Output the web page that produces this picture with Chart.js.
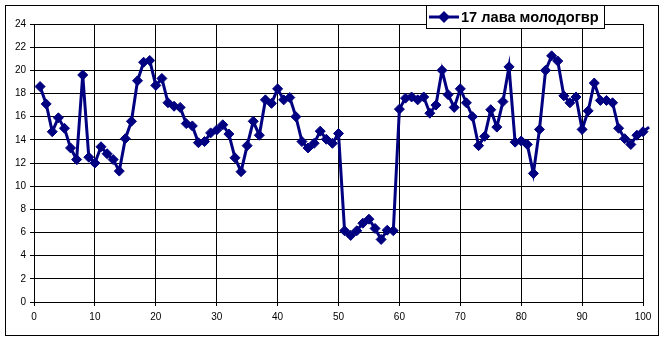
<!doctype html>
<html>

<head>
  <meta charset="utf-8">
  <script src="https://cdn.jsdelivr.net/npm/chart.js@4/dist/chart.umd.min.js"></script>
  <style>
    html, body { margin: 0; padding: 0; background: #fff; }
    #wrap { width: 665px; height: 342px; position: relative; }
  </style>
</head>

<body>
  <div id="wrap">
    <canvas id="canvas"></canvas>
  </div>
  <script>
    const seriesName = '17 лава молодогвр';

    const xValues = [
      1, 2, 3, 4, 5, 6, 7, 8, 9, 10,
      11, 12, 13, 14, 15, 16, 17, 18, 19, 20,
      21, 22, 23, 24, 25, 26, 27, 28, 29, 30,
      31, 32, 33, 34, 35, 36, 37, 38, 39, 40,
      41, 42, 43, 44, 45, 46, 47, 48, 49, 50,
      51, 52, 53, 54, 55, 56, 57, 58, 59, 60,
      61, 62, 63, 64, 65, 66, 67, 68, 69, 70,
      71, 72, 73, 74, 75, 76, 77, 78, 79, 80,
      81, 82, 83, 84, 85, 86, 87, 88, 89, 90,
      91, 92, 93, 94, 95, 96, 97, 98, 99, 100,
      101
    ];

    const yValues = [
      18.6, 17.1, 14.7, 15.9, 15.0, 13.3, 12.3, 19.6, 12.5, 12.0,
      13.4, 12.8, 12.3, 11.3, 14.1, 15.6, 19.1, 20.7, 20.85, 18.7,
      19.3, 17.2, 16.9, 16.8, 15.4, 15.2, 13.75, 13.85, 14.6, 14.85,
      15.3, 14.5, 12.45, 11.25, 13.5, 15.6, 14.4, 17.45, 17.15, 18.4,
      17.45, 17.65, 16.0, 13.85, 13.3, 13.7, 14.75, 14.05, 13.7, 14.55,
      6.15, 5.75, 6.15, 6.8, 7.15, 6.35, 5.4, 6.2, 6.15, 16.65,
      17.6, 17.7, 17.45, 17.7, 16.3, 17.0, 20.0, 17.9, 16.8, 18.4,
      17.2, 16.0, 13.5, 14.3, 16.6, 15.1, 17.3, 20.3, 13.8, 13.9,
      13.6, 11.1, 14.9, 20.0, 21.25, 20.8, 17.8, 17.2, 17.7, 14.9,
      16.5, 18.9, 17.4, 17.4, 17.2, 15.0, 14.1, 13.6, 14.4, 14.7,
      15.1
    ];

    const xMin = 0, xMax = 100, xStep = 10;
    const yMin = 0, yMax = 24, yStep = 2;

    const navy = '#000080';

    // outer frame + legend box like the original spreadsheet chart
    const framePlugin = {
      id: 'frame',
      beforeDraw(chart) {
        const ctx = chart.ctx;
        ctx.save();
        ctx.fillStyle = '#fff';
        ctx.fillRect(0, 0, chart.width, chart.height);
        ctx.restore();
      },
      afterDraw(chart) {
        const ctx = chart.ctx;
        ctx.save();
        ctx.strokeStyle = '#000';
        ctx.lineWidth = 1;
        ctx.strokeRect(5.5, 5.5, 653, 330);

        // legend
        ctx.fillStyle = '#fff';
        ctx.fillRect(426.5, 5.5, 178, 23);
        ctx.strokeRect(426.5, 5.5, 178, 23);

        ctx.strokeStyle = navy;
        ctx.lineWidth = 3;
        ctx.beginPath();
        ctx.moveTo(429, 17);
        ctx.lineTo(459, 17);
        ctx.stroke();

        ctx.fillStyle = navy;
        ctx.beginPath();
        ctx.moveTo(438, 17);
        ctx.lineTo(444, 11);
        ctx.lineTo(450, 17);
        ctx.lineTo(444, 23);
        ctx.closePath();
        ctx.fill();

        ctx.fillStyle = '#000';
        ctx.font = 'bold 14.6px "Liberation Sans", Arial, sans-serif';
        ctx.textBaseline = 'middle';
        ctx.textAlign = 'left';
        ctx.fillText(seriesName, 461, 17.5);
        ctx.restore();
      }
    };

    const tickFont = { family: '"Liberation Sans", Arial, sans-serif', size: 10 };

    new Chart(document.getElementById('canvas'), {
      type: 'line',
      data: {
        datasets: [{
          label: seriesName,
          data: xValues.map((x, i) => ({ x: x, y: yValues[i] })),
          borderColor: navy,
          backgroundColor: navy,
          borderWidth: 3,
          tension: 0,
          pointStyle: 'rectRot',
          pointRadius: 5,
          pointBorderWidth: 1,
          pointBorderColor: navy,
          pointBackgroundColor: navy,
          clip: false
        }]
      },
      options: {
        responsive: true,
        maintainAspectRatio: false,
        animation: false,
        layout: { padding: { left: 0, top: 24, right: 22, bottom: 0 } },
        plugins: {
          legend: { display: false },
          tooltip: { enabled: false }
        },
        scales: {
          x: {
            type: 'linear',
            // limits set after data so the last point past 100 still gets drawn
            afterDataLimits(scale) { scale.min = xMin; scale.max = xMax; },
            afterFit(scale) { scale.height = 40; },
            ticks: { stepSize: xStep, color: '#000', font: tickFont, padding: 5, maxRotation: 0 },
            grid: { color: '#000', lineWidth: 1, tickLength: 4 },
            border: { color: '#000', width: 1 }
          },
          y: {
            min: yMin,
            max: yMax,
            afterFit(scale) { scale.width = 34; },
            ticks: { stepSize: yStep, color: '#000', font: tickFont, padding: 4 },
            grid: { color: '#000', lineWidth: 1, tickLength: 4 },
            border: { color: '#000', width: 1 }
          }
        }
      },
      plugins: [framePlugin]
    });
  </script>
</body>

</html>
